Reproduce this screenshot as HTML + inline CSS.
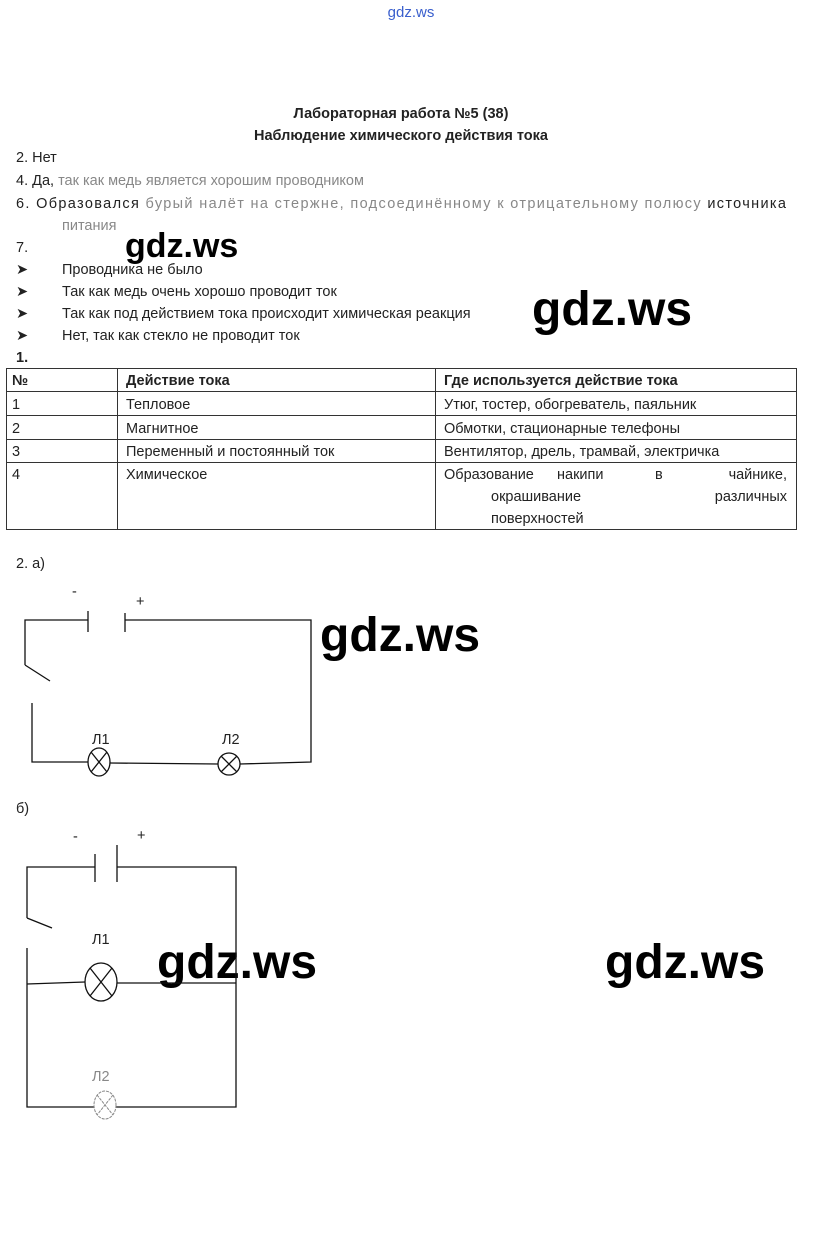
<!DOCTYPE html>
<html><head><meta charset="utf-8"><style>
body{margin:0;background:#fff;width:823px;height:1233px;overflow:hidden}
svg{display:block}
text{font-family:"Liberation Sans",sans-serif;fill:#222}
.t{font-size:14.5px}
.w{font-size:48px;fill:#000;font-weight:bold}
.faint{fill:#888}
</style></head><body>
<svg width="823" height="1233" viewBox="0 0 823 1233" xmlns="http://www.w3.org/2000/svg">
<text x="411" y="17" font-size="15" text-anchor="middle" style="fill:#3a5fcd">gdz.ws</text>
<text x="401" y="118" font-size="14.5" font-weight="bold" text-anchor="middle">Лабораторная работа №5 (38)</text>
<text x="401" y="140" font-size="14.5" font-weight="bold" text-anchor="middle">Наблюдение химического действия тока</text>
<text class="t" x="16" y="162">2. Нет</text>
<text class="t" x="16" y="185">4. Да, <tspan class="faint">так как медь является хорошим проводником</tspan></text>
<text class="t" x="16" y="208" textLength="770">6. Образовался <tspan class="faint">бурый налёт на стержне, подсоединённому к отрицательному полюсу</tspan> источника</text>
<text class="t faint" x="62" y="230">питания</text>
<text class="t" x="16" y="252">7.</text>
<text x="125" y="257" font-size="34" font-weight="bold" style="fill:#000">gdz.ws</text>
<text class="t" x="16" y="274">➤</text><text class="t" x="62" y="274">Проводника не было</text>
<text class="t" x="16" y="296">➤</text><text class="t" x="62" y="296">Так как медь очень хорошо проводит ток</text>
<text class="t" x="16" y="318">➤</text><text class="t" x="62" y="318">Так как под действием тока происходит химическая реакция</text>
<text class="t" x="16" y="340">➤</text><text class="t" x="62" y="340">Нет, так как стекло не проводит ток</text>
<text x="532" y="325" class="w">gdz.ws</text>
<text class="t" x="16" y="362" font-weight="bold">1.</text>
<g stroke="#333" stroke-width="1" fill="none">
<rect x="6.5" y="368.5" width="790" height="161"/>
<line x1="6" y1="391.5" x2="797" y2="391.5"/>
<line x1="6" y1="415.5" x2="797" y2="415.5"/>
<line x1="6" y1="439.5" x2="797" y2="439.5"/>
<line x1="6" y1="462.5" x2="797" y2="462.5"/>
<line x1="117.5" y1="368" x2="117.5" y2="530"/>
<line x1="435.5" y1="368" x2="435.5" y2="530"/>
</g>
<g class="t">
<text x="12" y="385" font-weight="bold">№</text><text x="126" y="385" font-weight="bold">Действие тока</text><text x="444" y="385" font-weight="bold">Где используется действие тока</text>
<text x="12" y="409">1</text><text x="126" y="409">Тепловое</text><text x="444" y="409">Утюг, тостер, обогреватель, паяльник</text>
<text x="12" y="433">2</text><text x="126" y="433">Магнитное</text><text x="444" y="433">Обмотки, стационарные телефоны</text>
<text x="12" y="456">3</text><text x="126" y="456">Переменный и постоянный ток</text><text x="444" y="456">Вентилятор, дрель, трамвай, электричка</text>
<text x="12" y="479">4</text><text x="126" y="479">Химическое</text>
<text x="444" y="479">Образование</text><text x="557" y="479">накипи</text><text x="655" y="479">в</text><text x="787" y="479" text-anchor="end">чайнике,</text>
<text x="491" y="501">окрашивание</text><text x="787" y="501" text-anchor="end">различных</text>
<text x="491" y="523">поверхностей</text>
<text x="16" y="568">2. а)</text>
<text x="72" y="596">-</text><text x="136" y="606">+</text>
<text x="92" y="744">Л1</text><text x="222" y="744">Л2</text>
<text x="16" y="813">б)</text>
<text x="73" y="841">-</text><text x="137" y="840">+</text>
<text x="92" y="944">Л1</text><text x="92" y="1081" class="faint">Л2</text>
</g>
<text x="320" y="651" class="w">gdz.ws</text>
<text x="157" y="978" class="w">gdz.ws</text>
<text x="605" y="978" class="w">gdz.ws</text>
<g stroke="#111" stroke-width="1.3" fill="none">
<polyline points="25,665 25,620 88,620"/>
<line x1="88" y1="611" x2="88" y2="632"/>
<line x1="125" y1="613" x2="125" y2="632"/>
<polyline points="125,620 311,620 311,762 240,764"/>
<line x1="25" y1="665" x2="50" y2="681"/>
<polyline points="32,703 32,762 88,762"/>
<ellipse cx="99" cy="762" rx="11" ry="14"/>
<path d="M91,752 L107,772 M107,752 L91,772"/>
<line x1="110" y1="763" x2="218" y2="764"/>
<ellipse cx="229" cy="764" rx="11" ry="11"/>
<path d="M221,756 L237,772 M237,756 L221,772"/>
<polyline points="27,918 27,867 95,867"/>
<line x1="95" y1="854" x2="95" y2="882"/>
<line x1="117" y1="845" x2="117" y2="882"/>
<polyline points="117,867 236,867 236,1107 116,1107"/>
<line x1="27" y1="918" x2="52" y2="928"/>
<polyline points="27,948 27,1107 94,1107"/>
<line x1="27" y1="984" x2="85" y2="982"/>
<ellipse cx="101" cy="982" rx="16" ry="19"/>
<path d="M90,968 L112,996 M112,968 L90,996"/>
<line x1="117" y1="983" x2="236" y2="983"/>
</g>
<g stroke="#888" stroke-width="1" fill="none" stroke-dasharray="3,1">
<ellipse cx="105" cy="1105" rx="11" ry="14"/>
<path d="M97,1095 L113,1115 M113,1095 L97,1115"/>
</g>
</svg>
</body></html>
